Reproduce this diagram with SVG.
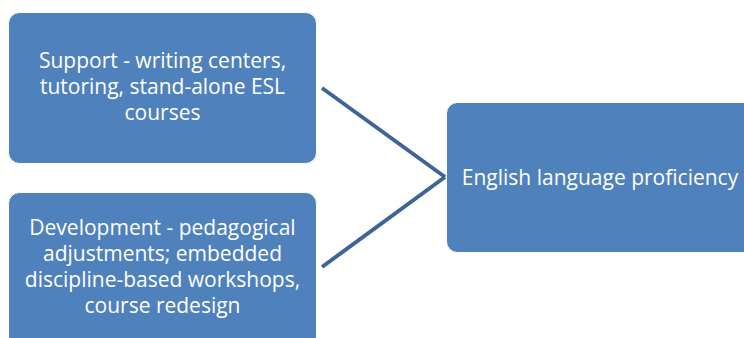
<svg xmlns="http://www.w3.org/2000/svg" width="744" height="338" viewBox="0 0 744 338">
<style>
.node{fill:#4F81BD;stroke:#FFFFFF;stroke-width:1}
.lbl{fill:#FFFFFF;font-family:"Open Sans","Liberation Sans",Arial,sans-serif;font-size:21px;text-anchor:middle}
.conn{stroke:#3F6598;stroke-width:4;fill:none;stroke-linecap:butt}
</style>
<rect width="744" height="338" fill="#FFFFFF"/>
<g id="connectors">
<line class="conn" x1="322" y1="88" x2="445" y2="177"/>
<line class="conn" x1="322" y1="267" x2="445" y2="177"/>
</g>
<g id="node-support">
<rect class="node" x="8.5" y="12.5" width="308" height="151" rx="11"/>
<text class="lbl" x="162.5" y="68">Support - writing centers,</text>
<text class="lbl" x="162.5" y="94">tutoring, stand-alone ESL</text>
<text class="lbl" x="162.5" y="120">courses</text>
</g>
<g id="node-development">
<rect class="node" x="8.5" y="192.5" width="308" height="160" rx="11"/>
<text class="lbl" x="162.5" y="235">Development - pedagogical</text>
<text class="lbl" x="162.5" y="261">adjustments; embedded</text>
<text class="lbl" x="162.5" y="287">discipline-based workshops,</text>
<text class="lbl" x="162.5" y="313">course redesign</text>
</g>
<g id="node-english">
<rect class="node" x="446.5" y="102.5" width="308" height="150" rx="11"/>
<text class="lbl" x="600" y="185">English language proficiency</text>
</g>
</svg>
